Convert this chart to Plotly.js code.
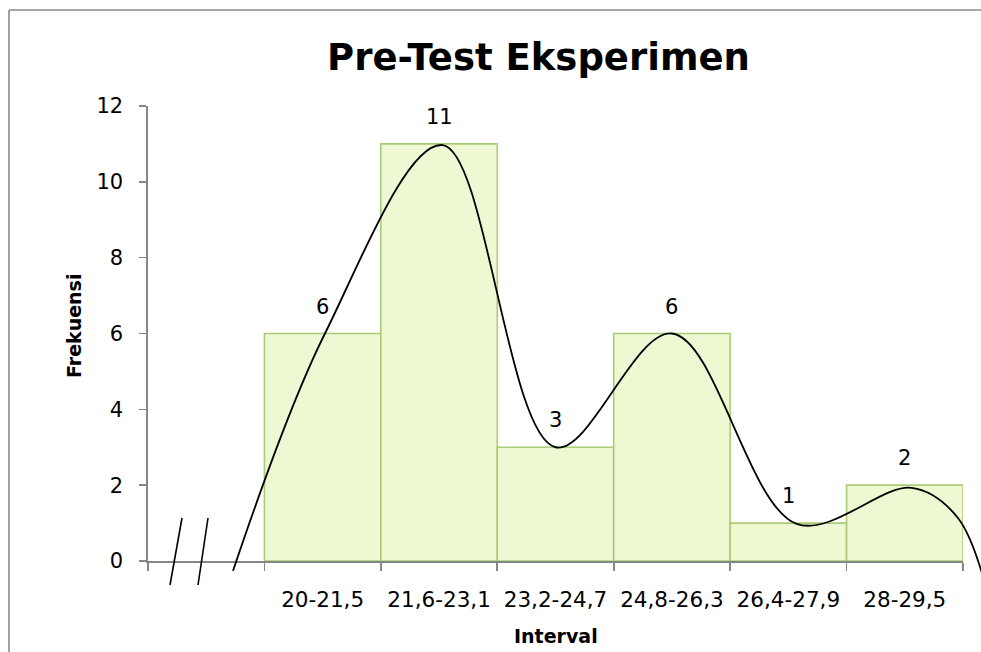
<!DOCTYPE html>
<html>
<head>
<meta charset="utf-8">
<script src="https://cdn.plot.ly/plotly-3.0.1.min.js"></script>
<style>html,body{margin:0;padding:0;background:#fff;}#chart{width:981px;height:652px;}</style>
</head>
<body>
<div id="chart"></div>
<script>
// ---- data ----
const categories = ["20-21,5", "21,6-23,1", "23,2-24,7", "24,8-26,3", "26,4-27,9", "28-29,5"];
const frequencies = [6, 11, 3, 6, 1, 2];
const axisCategories = [" "].concat(categories);   // empty slot before the first interval
const yTickVals = [0, 2, 4, 6, 8, 10, 12];
// smooth curve drawn over the histogram (x in category slots)
const curveX = [0.23, 1.02, 2.03, 3.0, 4.0, 5.07, 6.06, 6.46, 6.78];
const curveY = [-0.26, 6, 10.97, 3, 6, 0.98, 1.93, 1.12, -1.7];

// ---- geometry helpers (figure pixels -> paper fractions) ----
const W = 981, H = 652;
const px = v => v / W, py = v => 1 - v / H;
const plotL = 148, plotR = 963, plotT = 106, plotB = 561;
const slot = (plotR - plotL) / axisCategories.length;
const unitPx = (plotB - plotT) / 12;
const curveBottom = 645;

const FONT = "DejaVu Sans";

const bars = {
  type: "bar", x: categories, y: frequencies, xaxis: "x", yaxis: "y",
  marker: {color: "#eef9d3", line: {color: "#a9cc74", width: 1.6}},
  hoverinfo: "x+y", showlegend: false
};
const curve = {
  type: "scatter", mode: "lines", x: curveX, y: curveY, xaxis: "x2", yaxis: "y2",
  line: {shape: "spline", smoothing: 1, color: "#000", width: 1.8},
  hoverinfo: "skip", showlegend: false
};

const labels = categories.map((c, i) => ({
  x: c, y: frequencies[i], xref: "x", yref: "y", text: String(frequencies[i]),
  showarrow: false, yanchor: "bottom", yshift: 13,
  font: {family: FONT, size: 21, color: "#000"}
}));

const titleAnns = [
  {xref: "paper", yref: "paper", x: px(74), y: py(326), text: "<b>Frekuensi</b>", textangle: -90,
   showarrow: false, xanchor: "center", yanchor: "middle", font: {family: FONT, size: 19, color: "#000"}},
  {xref: "paper", yref: "paper", x: px(556), y: py(636), text: "<b>Interval</b>",
   showarrow: false, xanchor: "center", yanchor: "middle", font: {family: FONT, size: 19, color: "#000"}}
];

const grey = "#868686";
const layout = {
  width: W, height: H,
  margin: {l: 0, r: 0, t: 0, b: 0},
  paper_bgcolor: "#fff", plot_bgcolor: "rgba(0,0,0,0)",
  bargap: 0,
  title: {text: "<b>Pre-Test Eksperimen</b>", x: px(538.5), xanchor: "center", y: py(57), yanchor: "middle",
          font: {family: FONT, size: 37, color: "#000"}},
  xaxis: {
    type: "category", categoryorder: "array", categoryarray: axisCategories,
    range: [-0.5, axisCategories.length - 0.5], fixedrange: true,
    domain: [px(plotL), px(plotR)], anchor: "y",
    showline: true, linecolor: grey, linewidth: 1.6,
    ticks: "outside", tickson: "boundaries", ticklen: 8, tickcolor: grey, tickwidth: 1.6,
    showgrid: false, zeroline: false,
    tickfont: {family: FONT, size: 21.5, color: "#000"}, ticklabelstandoff: 19
  },
  yaxis: {
    range: [0, 12], fixedrange: true, domain: [py(plotB), py(plotT)], anchor: "x",
    tickvals: yTickVals, ticktext: yTickVals.map(String),
    showline: true, linecolor: grey, linewidth: 1.6,
    ticks: "outside", ticklen: 7, tickcolor: grey, tickwidth: 1.6,
    showgrid: false, zeroline: false,
    tickfont: {family: FONT, size: 21, color: "#000"}, ticklabelstandoff: 12
  },
  xaxis2: {
    domain: [px(plotL), 1], anchor: "y2", fixedrange: true,
    range: [-0.5, -0.5 + (W - plotL) / slot],
    visible: false
  },
  yaxis2: {
    domain: [py(curveBottom), py(plotT)], anchor: "x2", fixedrange: true,
    range: [-(curveBottom - plotB) / unitPx, 12],
    visible: false
  },
  annotations: labels.concat(titleAnns),
  shapes: [
    // chart frame (left and top edges; the rest lies outside the picture)
    {type: "line", xref: "paper", yref: "paper", x0: px(9), x1: px(9), y0: py(10), y1: 0,
     line: {color: "#8a8a8a", width: 1.6}},
    {type: "line", xref: "paper", yref: "paper", x0: px(9), x1: 1, y0: py(10), y1: py(10),
     line: {color: "#8a8a8a", width: 1.6}},
    // axis break marks
    {type: "line", xref: "paper", yref: "paper", x0: px(182), x1: px(170), y0: py(518), y1: py(585),
     line: {color: "#000", width: 1.6}},
    {type: "line", xref: "paper", yref: "paper", x0: px(208), x1: px(198), y0: py(518), y1: py(585),
     line: {color: "#000", width: 1.6}}
  ]
};

Plotly.newPlot("chart", [bars, curve], layout, {displayModeBar: false, staticPlot: true});
</script>
</body>
</html>
